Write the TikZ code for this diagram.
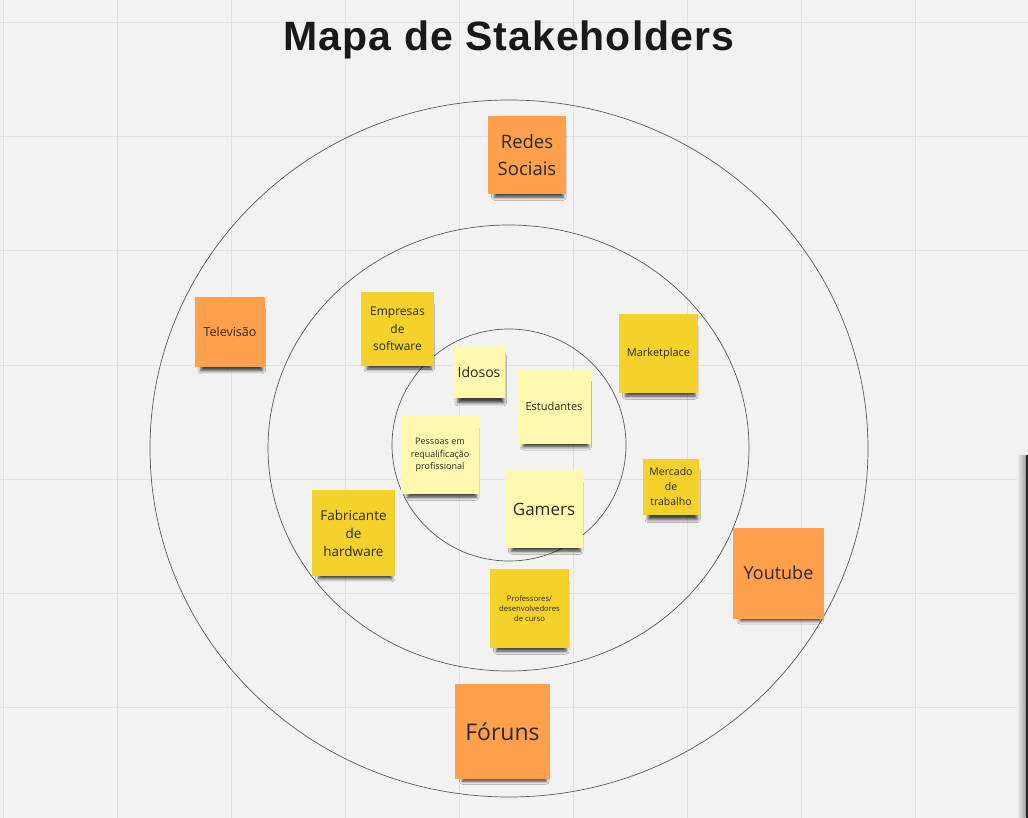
\documentclass[tikz,border=0pt]{standalone}
\usepackage{fontspec}
\setmainfont{Open Sans}
\newfontfamily\titulofont[LetterSpace=2.5]{Liberation Sans}
\usetikzlibrary{shadows.blur}

\definecolor{fundo}{HTML}{F2F2F2}
\definecolor{grade}{HTML}{E2E2E2}
\definecolor{laranja}{HTML}{FFA04C}
\definecolor{amarelo}{HTML}{F5D12C}
\definecolor{amareloclaro}{HTML}{FFF8AE}
\definecolor{texto}{HTML}{2A2A2A}

\newcommand{\tam}[2]{\fontsize{#1}{#2}\selectfont}

\begin{document}
\begin{tikzpicture}[x=1pt, y=-1pt,
    nota/.style={inner sep=0pt, align=center, text=texto, minimum width=#1, minimum height=#1,
      blur shadow={shadow xshift=2pt, shadow yshift=-9pt, shadow scale=0.88, shadow blur radius=3.5pt, shadow opacity=75}},
    externo/.style={nota=#1, fill=laranja},
    medio/.style={nota=#1, fill=amarelo},
    interno/.style={nota=#1, fill=amareloclaro},
    anel/.style={draw=black!65, line width=0.7pt},
    grade/.style={draw=grade, line width=1pt}]
    \useasboundingbox (0,0) rectangle (1028,818);

    % Fundo e grade
    \fill[fundo] (0,0) rectangle (1028,818);
    \foreach \x in {3,117,...,915}
        \draw[grade] (\x,0) -- (\x,818);
    \foreach \y in {23,137,...,707}
        \draw[grade] (0,\y) -- (1028,\y);

    % Borda escura do painel à direita
    \shade[left color=fundo, right color=black!35] (1017,455) rectangle (1025.5,818);
    \fill[black!85] (1025.5,455) rectangle (1028,818);

    % Titulo
    \node[anchor=base, text=black!90, font=\titulofont\bfseries\tam{41}{50}] (titulo) at (509,50.5) {Mapa de Stakeholders};

    % Aneis de influencia
    \draw[anel] (509,448.5) ellipse [x radius=359, y radius=348.5];
    \draw[anel] (508.5,448) ellipse [x radius=240.5, y radius=223];
    \draw[anel] (509,445) ellipse [x radius=117, y radius=116];

    % Anel externo (laranja)
    \node[externo=78, font=\tam{18.5}{27}] (redes) at (527,155) {Redes\\Sociais};
    \node[externo=70, font=\tam{12.5}{16}] (televisao) at (230,332) {Televisão};
    \node[externo=91, font=\tam{18}{24}] (youtube) at (778.5,573) {Youtube};
    \node[externo=95, font=\tam{23}{30}] (foruns) at (502.5,731.5) {Fóruns};

    % Anel do meio (amarelo)
    \node[medio=73, font=\tam{12}{17.5}] (empresas) at (397.5,329) {Empresas\\de\\software};
    \node[medio=79, font=\tam{11}{15}] (marketplace) at (658.5,353.5) {Marketplace};
    \node[medio=56, font=\tam{10.5}{15}] (mercado) at (671,487) {Mercado\\de\\trabalho};
    \node[medio=83, minimum height=86, font=\tam{13.5}{18}] (fabricante) at (353.5,533) {Fabricante\\de\\hardware};
    \node[medio=79, font=\tam{7.7}{10}] (professores) at (529.5,608.5) {Professores/\\desenvolvedores\\de curso};

    % Centro (amarelo claro)
    \node[interno=52, font=\tam{14}{18}] (idosos) at (479,372) {Idosos};
    \node[interno=74, font=\tam{11}{15}] (estudantes) at (554,406.5) {Estudantes};
    \node[interno=78, font=\tam{9}{12.5}] (pessoas) at (440,455) {Pessoas em\\requalificação\\profissional};
    \node[interno=78, font=\tam{17}{22}] (gamers) at (544,509) {Gamers};
\end{tikzpicture}
\end{document}
